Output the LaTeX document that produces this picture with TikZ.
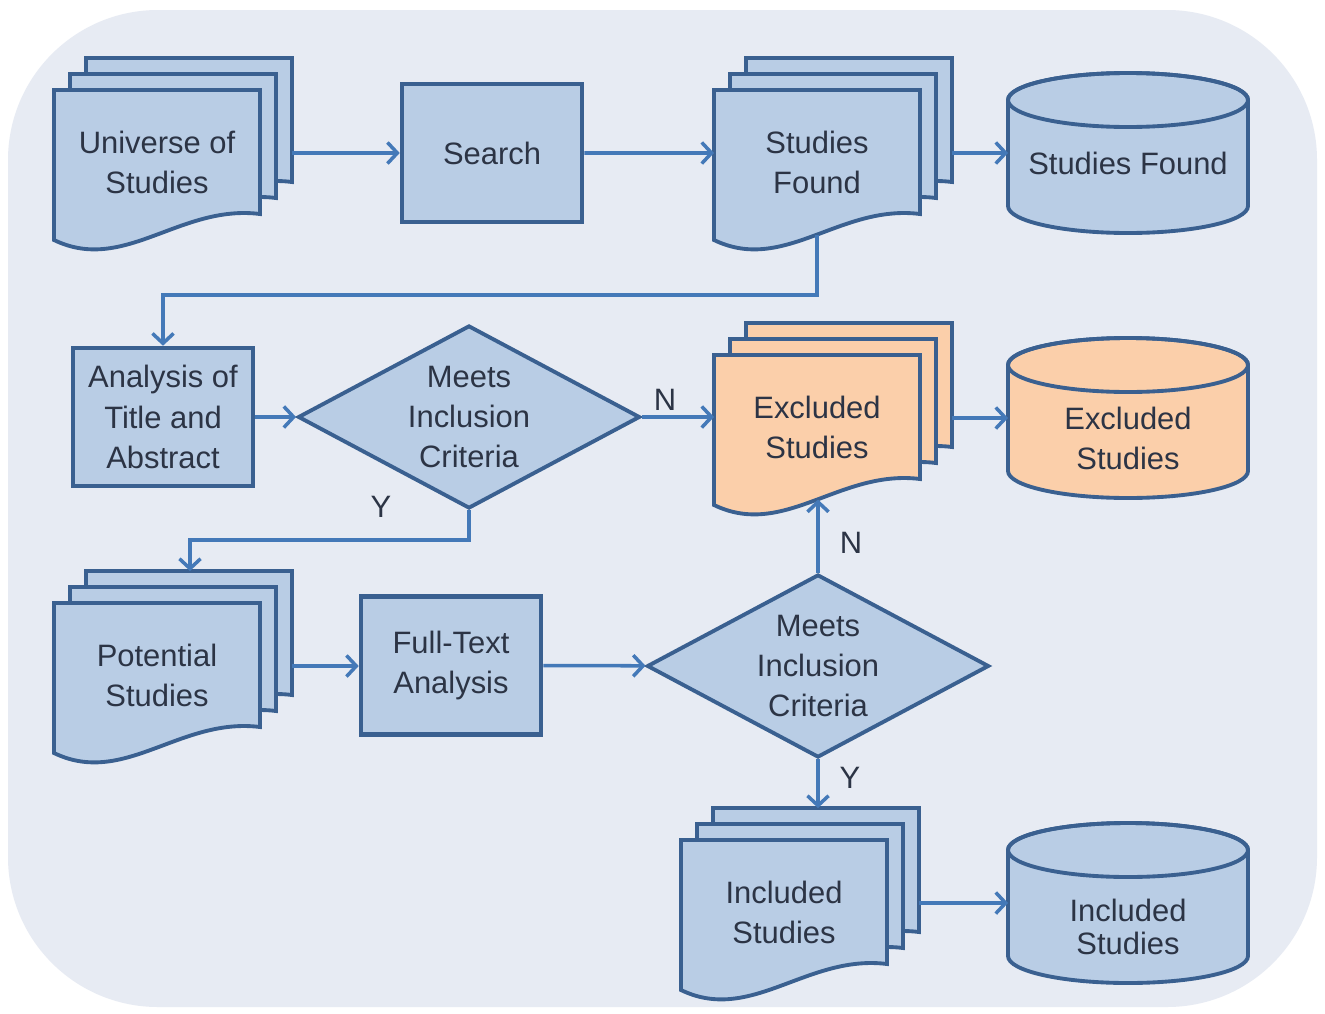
\documentclass[tikz,border=0pt]{standalone}
\usepackage{fontspec}
\setmainfont{Liberation Sans}
\usetikzlibrary{shapes.geometric,arrows.meta}

\definecolor{boxfill}{HTML}{B9CDE5}
\definecolor{boxline}{HTML}{3A6090}
\definecolor{flowline}{HTML}{4479B8}
\definecolor{exclfill}{HTML}{FBCFAA}
\definecolor{panel}{HTML}{E7EBF3}
\definecolor{ink}{HTML}{2C3445}

\newcommand\txtsize{\fontsize{8.8}{11.4}\selectfont}

\tikzstyle{sheet}=[draw=boxline, line width=1.1pt, fill=boxfill]
\tikzstyle{txt}=[align=center, text=ink, font=\txtsize, inner sep=0pt]
\tikzstyle{proc}=[sheet, txt, rectangle, line width=1.3pt, minimum width=1.8cm, minimum height=1.38cm]
\tikzstyle{crit}=[sheet, txt, diamond, aspect=1.87, minimum width=3.42cm, minimum height=1.83cm]
\tikzstyle{flow}=[draw=flowline, line width=1pt, -{Straight Barb[length=2.8pt,width=6pt]}]

% stack of three documents: name, top left of front sheet, fill, text
\newcommand\docstack[4]{%
  \begin{scope}[shift={(#2)}]
    \foreach \sh in {0.32,0.16,0}
      \filldraw[sheet, fill=#3, shift={(\sh,\sh)}] (0,0) -- (2.06,0) -- (2.06,-1.24)
        .. controls (1.26,-1.14) and (0.7,-1.84) .. (0,-1.50) -- cycle;
    \path (2.06,-1.24) .. controls (1.26,-1.14) and (0.7,-1.84) .. (0,-1.50) coordinate[pos=0.48] (#1-b);
    \node[txt] (#1) at (1.03,-0.72) {#4};
    \coordinate (#1-l) at (0,-0.63);
    \coordinate (#1-r) at (2.38,-0.63);
    \coordinate (#1-t) at (1.36,0.32);
  \end{scope}}

% database cylinder: name, centre, fill, text shift, text
\newcommand\dbstore[5]{%
  \begin{scope}[shift={(#2)}]
    \filldraw[sheet, fill=#3] (-1.2,0.53) -- (-1.2,-0.53)
      arc[start angle=180, end angle=360, x radius=1.2, y radius=0.27] -- (1.2,0.53)
      arc[start angle=0, end angle=180, x radius=1.2, y radius=0.27] -- cycle;
    \draw[sheet, fill=none] (0,0.53) ellipse[x radius=1.2, y radius=0.27];
    \node[txt] (#1) at (0,#4) {#5};
    \coordinate (#1-l) at (-1.2,0);
  \end{scope}}

\begin{document}
\begin{tikzpicture}
    \fill[white] (0,0) rectangle (13.25,-10.13);
    \useasboundingbox (0,0) rectangle (13.25,-10.13);
    \fill[panel, rounded corners=1.5cm] (0.08,-0.10) rectangle (13.17,-10.07);

    % top row
    \docstack{uni}{0.54,-0.90}{boxfill}{Universe of\\ Studies}
    \node [proc] (srch) at (4.92,-1.53) {Search};
    \docstack{fnd}{7.14,-0.90}{boxfill}{Studies\\ Found}
    \dbstore{fndDB}{11.28,-1.53}{boxfill}{-0.10}{Studies Found}

    % middle row
    \node [proc] (abs) at (1.63,-4.17) {Analysis of\\ Title and\\ Abstract};
    \node [crit] (crit1) at (4.69,-4.17) {Meets\\ Inclusion\\ Criteria};
    \docstack{exc}{7.14,-3.55}{exclfill}{Excluded\\ Studies}
    \dbstore{excDB}{11.28,-4.18}{exclfill}{-0.20}{Excluded\\ Studies}

    % bottom rows
    \docstack{pot}{0.54,-6.03}{boxfill}{Potential\\ Studies}
    \node [proc] (ftx) at (4.51,-6.655) {Full-Text\\ Analysis};
    \node [crit] (crit2) at (8.18,-6.66) {Meets\\ Inclusion\\ Criteria};
    \docstack{inc}{6.81,-8.40}{boxfill}{Included\\ Studies}
    \dbstore{incDB}{11.28,-9.03}{boxfill}{-0.24}{Included\\[-2pt] Studies}

    \coordinate (bend1) at (1.63,-2.95);
    \coordinate (bend2) at (1.90,-5.40);

    \node [txt] (n1) at (6.65,-4.00) {N};
    \node [txt] (y1) at (3.81,-5.07) {Y};
    \node [txt] (n2) at (8.51,-5.43) {N};
    \node [txt] (y2) at (8.50,-7.78) {Y};

    \draw [flow] (uni-r) -- (srch);
    \draw [flow] (srch) -- (fnd-l);
    \draw [flow] (fnd-r) -- (fnd-r -| fndDB-l);
    \draw [flow] (fnd-b) |- (bend1) -- (abs);
    \draw [flow] (abs) -- (crit1);
    \draw [flow] (crit1) -- (crit1 -| exc-l);
    \draw [flow] (exc-r) -- (exc-r -| excDB-l);
    \draw [flow] (crit1) |- (bend2) -- (pot-t);
    \draw [flow] (pot-r) -- (pot-r -| ftx.west);
    \draw [flow] (ftx) -- (crit2);
    \draw [flow] (crit2) -- (crit2 |- exc-b);
    \draw [flow] (crit2) -- (crit2 |- inc-t);
    \draw [flow] (inc-r) -- (inc-r -| incDB-l);
\end{tikzpicture}
\end{document}
